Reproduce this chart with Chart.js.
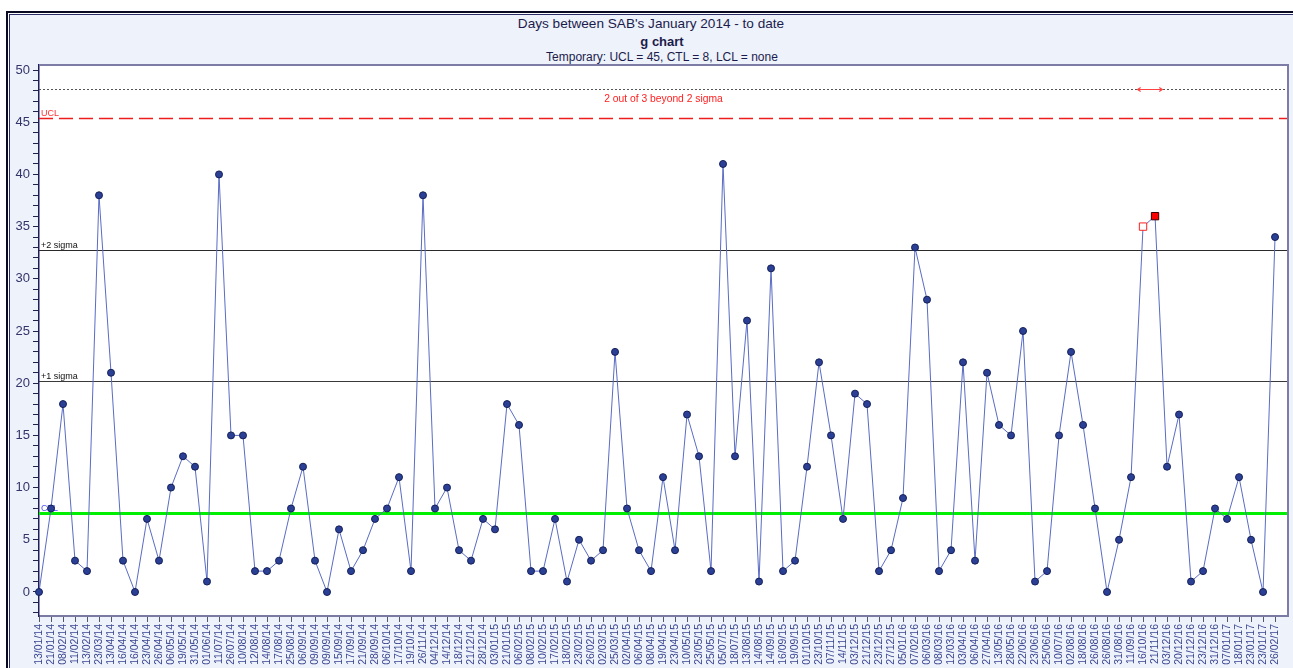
<!DOCTYPE html>
<html>
<head>
<meta charset="utf-8">
<script src="https://cdn.jsdelivr.net/npm/chart.js@4/dist/chart.umd.min.js"></script>
<style>
html,body{margin:0;padding:0;width:1293px;height:668px;overflow:hidden;background:#ffffff;font-family:Arial,"Liberation Sans",sans-serif;}
#outer{position:absolute;left:6px;top:11px;width:1400px;height:800px;border-left:2px solid #0a0a22;border-top:2px solid #0a0a22;}
#inner{position:absolute;left:9px;top:14px;width:1400px;height:800px;border-left:1px solid #2c2c66;border-top:1px solid #2c2c66;background:#edf2fb;}
.t{position:absolute;white-space:nowrap;color:#1c1c4c;transform:translateX(-50%);}
#c{position:absolute;left:0;top:0;}
</style>
</head>
<body>
<div id="outer"></div>
<div id="inner"></div>
<div class="t" style="left:651px;top:16px;font-size:13.6px;line-height:16px;">Days between SAB's January 2014 - to date</div>
<div class="t" style="left:662px;top:34px;font-size:13px;line-height:15px;font-weight:bold;">g chart</div>
<div class="t" style="left:662px;top:50px;font-size:12px;line-height:14px;">Temporary: UCL = 45, CTL = 8, LCL = none</div>
<canvas id="c" width="1293" height="668"></canvas>
<script>
const categories = [
 '13/01/14','21/01/14','08/02/14','11/02/14','13/02/14','23/03/14','13/04/14','16/04/14','16/04/14','23/04/14',
 '26/04/14','06/05/14','19/05/14','31/05/14','01/06/14','11/07/14','26/07/14','10/08/14','12/08/14','14/08/14',
 '17/08/14','25/08/14','06/09/14','09/09/14','09/09/14','15/09/14','17/09/14','21/09/14','28/09/14','06/10/14',
 '17/10/14','19/10/14','26/11/14','04/12/14','14/12/14','18/12/14','21/12/14','28/12/14','03/01/15','21/01/15',
 '06/02/15','08/02/15','10/02/15','17/02/15','18/02/15','23/02/15','26/02/15','02/03/15','25/03/15','02/04/15',
 '06/04/15','08/04/15','19/04/15','23/04/15','10/05/15','23/05/15','25/05/15','05/07/15','18/07/15','13/08/15',
 '14/08/15','14/09/15','16/09/15','19/09/15','01/10/15','23/10/15','07/11/15','14/11/15','03/12/15','21/12/15',
 '23/12/15','27/12/15','05/01/16','07/02/16','06/03/16','08/03/16','12/03/16','03/04/16','06/04/16','27/04/16',
 '13/05/16','28/05/16','22/06/16','23/06/16','25/06/16','10/07/16','02/08/16','18/08/16','26/08/16','26/08/16',
 '31/08/16','11/09/16','16/10/16','21/11/16','03/12/16','20/12/16','21/12/16','23/12/16','31/12/16','07/01/17',
 '18/01/17','23/01/17','23/01/17','26/02/17'
];
const daysBetween = [
 0,8,18,3,2,38,21,3,0,7,
 3,10,13,12,1,40,15,15,2,2,
 3,8,12,3,0,6,2,4,7,8,
 11,2,38,8,10,4,3,7,6,18,
 16,2,2,7,1,5,3,4,23,8,
 4,2,11,4,17,13,2,41,13,26,
 1,31,2,3,12,22,15,7,19,18,
 2,4,9,33,28,2,4,22,3,21,
 16,15,25,1,2,15,23,16,8,0,
 5,11,35,36,12,17,1,2,8,7,
 11,5,0,34
];
// rule-signal points: first is flagged (open), second is the triggering point (filled)
const signalOpen = [92];
const signalFilled = [93];

const limitLabels = ['', 'UCL', '+2 sigma', '+1 sigma', 'CTL'];
const limitValues = [48.2, 45.4, 32.8, 20.2, 7.55];
const ruleText = '2 out of 3 beyond 2 sigma';
const ruleSpan = [91.55, 93.6];

const yTickLabelsEvery = 5;

Chart.defaults.font.family = 'Arial, "Liberation Sans", sans-serif';

const points = daysBetween.map((v, i) => ({x: i, y: v}));

const limitStyles = [
  {color: '#555555', width: 1, dash: [2, 2], text: '#000000'},
  {color: '#ee1c1c', width: 1.5, dash: [14, 6], text: '#ff3030'},
  {color: '#2a2a2a', width: 1.2, dash: [], text: '#111111'},
  {color: '#3a3a3a', width: 1.2, dash: [], text: '#111111'},
  {color: '#00ee00', width: 3, dash: [], text: '#5050ff'}
];

const deco = {
  id: 'deco',
  beforeDraw(chart) {
    const {ctx, chartArea: a} = chart;
    ctx.save();
    ctx.fillStyle = '#ffffff';
    ctx.fillRect(a.left, a.top, a.right - a.left, a.bottom - a.top);
    ctx.restore();
  },
  beforeDatasetsDraw(chart) {
    const {ctx, chartArea: a, scales: {x, y}} = chart;
    ctx.save();
    ctx.beginPath();
    ctx.rect(a.left, a.top, a.right - a.left, a.bottom - a.top);
    ctx.clip();
    limitValues.forEach((v, i) => {
      const py = Math.round(y.getPixelForValue(v)) + 0.5;
      const s = limitStyles[i];
      ctx.strokeStyle = s.color;
      ctx.lineWidth = s.width;
      ctx.setLineDash(s.dash);
      ctx.beginPath();
      ctx.moveTo(a.left, py);
      ctx.lineTo(a.right, py);
      ctx.stroke();
      ctx.setLineDash([]);
      if (limitLabels[i]) {
        ctx.fillStyle = s.text;
        ctx.font = '9px Arial, "Liberation Sans", sans-serif';
        ctx.textAlign = 'left';
        ctx.textBaseline = 'alphabetic';
        ctx.fillText(limitLabels[i], a.left + 2, py - 3);
      }
    });
    // rule annotation
    const py0 = Math.round(y.getPixelForValue(limitValues[0])) + 0.5;
    ctx.fillStyle = '#ff2020';
    ctx.font = '10.3px Arial, "Liberation Sans", sans-serif';
    ctx.textAlign = 'center';
    ctx.textBaseline = 'middle';
    ctx.fillText(ruleText, (a.left + a.right) / 2, py0 + 10);
    const x1 = x.getPixelForValue(ruleSpan[0]);
    const x2 = x.getPixelForValue(ruleSpan[1]);
    ctx.strokeStyle = '#ff4040';
    ctx.lineWidth = 1.2;
    ctx.beginPath();
    ctx.moveTo(x1, py0); ctx.lineTo(x2, py0);
    ctx.moveTo(x1 + 3, py0 - 2); ctx.lineTo(x1, py0); ctx.lineTo(x1 + 3, py0 + 2);
    ctx.moveTo(x2 - 3, py0 - 2); ctx.lineTo(x2, py0); ctx.lineTo(x2 - 3, py0 + 2);
    ctx.stroke();
    ctx.restore();
  },
  afterDraw(chart) {
    const {ctx, chartArea: a} = chart;
    ctx.save();
    ctx.strokeStyle = '#7c7ca6';
    ctx.lineWidth = 2;
    ctx.beginPath();
    ctx.moveTo(a.left, a.top);
    ctx.lineTo(a.right, a.top);
    ctx.lineTo(a.right, a.bottom);
    ctx.stroke();
    ctx.restore();
  }
};

const isOpen = i => signalOpen.includes(i);
const isFilled = i => signalFilled.includes(i);

new Chart(document.getElementById('c'), {
  type: 'line',
  data: {
    datasets: [{
      label: 'Days between SAB',
      data: points,
      borderColor: '#5a6cc4',
      borderWidth: 1,
      tension: 0,
      clip: false,
      pointStyle: c => (isOpen(c.dataIndex) || isFilled(c.dataIndex)) ? 'rect' : 'circle',
      pointRadius: c => (isOpen(c.dataIndex) || isFilled(c.dataIndex)) ? 5.2 : 3.5,
      pointBackgroundColor: c => isOpen(c.dataIndex) ? '#ffffff' : (isFilled(c.dataIndex) ? '#ff0000' : '#2b3f94'),
      pointBorderColor: c => isOpen(c.dataIndex) ? '#ff2020' : (isFilled(c.dataIndex) ? '#3a0000' : '#14205a'),
      pointBorderWidth: 1
    }]
  },
  options: {
    responsive: false,
    animation: false,
    devicePixelRatio: 1,
    layout: {padding: {top: 65, right: 5, left: 0, bottom: 0}},
    plugins: {legend: {display: false}, tooltip: {enabled: false}, title: {display: false}},
    scales: {
      x: {
        type: 'linear',
        position: 'bottom',
        min: 0,
        max: 104.08,
        afterFit: s => { s.height = 52; s.paddingLeft = 0; s.paddingRight = 0; },
        ticks: {
          stepSize: 1,
          autoSkip: false,
          includeBounds: false,
          maxRotation: 90,
          minRotation: 90,
          padding: 2,
          color: '#3a4690',
          font: {size: 10.5},
          callback: v => categories[v] !== undefined ? categories[v] : ''
        },
        grid: {
          display: true,
          drawOnChartArea: false,
          drawTicks: true,
          tickLength: 6,
          color: c => (c.tick && c.tick.value < categories.length) ? '#555566' : 'rgba(0,0,0,0)'
        },
        border: {display: true, color: '#7a7aa2', width: 2}
      },
      y: {
        type: 'linear',
        min: -2.3,
        max: 50.48,
        afterFit: s => { s.width = 39; s.paddingTop = 0; s.paddingBottom = 0; },
        ticks: {
          stepSize: 1,
          autoSkip: false,
          includeBounds: false,
          padding: 3,
          color: '#34346a',
          font: {size: 13},
          callback: v => (v >= 0 && v % yTickLabelsEvery === 0) ? String(v) : ''
        },
        grid: {
          display: true,
          drawOnChartArea: false,
          drawTicks: true,
          tickLength: 6,
          color: '#22224e'
        },
        border: {display: true, color: '#1e1e5c', width: 1.5}
      }
    }
  },
  plugins: [deco]
});
</script>
</body>
</html>
